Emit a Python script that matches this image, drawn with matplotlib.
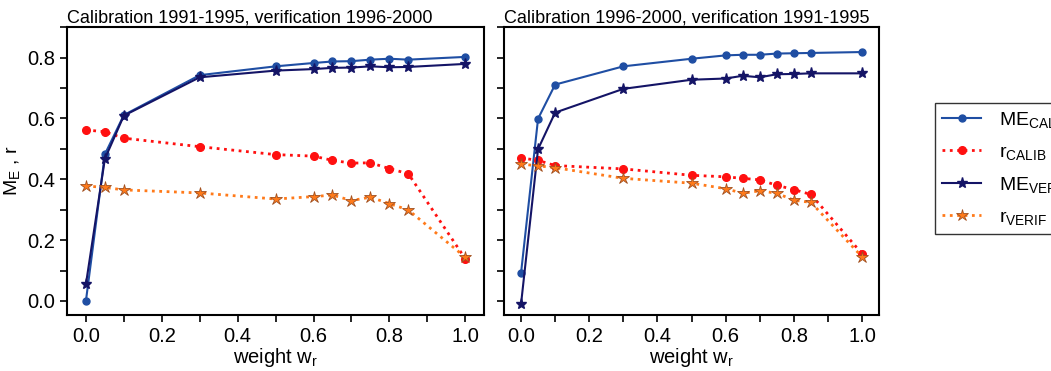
import matplotlib
matplotlib.use("Agg")
import matplotlib.pyplot as plt
from matplotlib.ticker import MultipleLocator

plt.rcParams['font.family'] = ['Liberation Sans', 'DejaVu Sans']
plt.rcParams['mathtext.default'] = 'regular'

weights = [0.0, 0.05, 0.1, 0.3, 0.5, 0.6, 0.65, 0.7, 0.75, 0.8, 0.85, 1.0]

# Left panel: Calibration 1991-1995, verification 1996-2000
me_calib_1 = [0.0, 0.482, 0.611, 0.742, 0.771, 0.782, 0.787, 0.788, 0.793, 0.796, 0.793, 0.802]
r_calib_1 = [0.562, 0.556, 0.535, 0.507, 0.481, 0.476, 0.462, 0.453, 0.454, 0.435, 0.418, 0.139]
me_verif_1 = [0.055, 0.467, 0.609, 0.735, 0.757, 0.762, 0.766, 0.767, 0.771, 0.768, 0.769, 0.779]
r_verif_1 = [0.378, 0.373, 0.365, 0.355, 0.335, 0.343, 0.348, 0.330, 0.341, 0.320, 0.299, 0.144]

# Right panel: Calibration 1996-2000, verification 1991-1995
me_calib_2 = [0.091, 0.599, 0.711, 0.771, 0.796, 0.807, 0.809, 0.809, 0.813, 0.814, 0.815, 0.818]
r_calib_2 = [0.470, 0.462, 0.445, 0.434, 0.413, 0.408, 0.403, 0.398, 0.380, 0.366, 0.350, 0.155]
me_verif_2 = [-0.011, 0.499, 0.619, 0.697, 0.727, 0.731, 0.740, 0.735, 0.745, 0.746, 0.748, 0.748]
r_verif_2 = [0.450, 0.444, 0.438, 0.403, 0.387, 0.369, 0.354, 0.362, 0.354, 0.331, 0.324, 0.145]

titles = ["Calibration 1991-1995, verification 1996-2000",
          "Calibration 1996-2000, verification 1991-1995"]
labels = ['ME$_{CALIB}$', 'r$_{CALIB}$', 'ME$_{VERIF}$', 'r$_{VERIF}$']

fig = plt.figure(figsize=(10.51, 3.71), dpi=100)
ax1 = fig.add_axes([0.0637, 0.151, 0.397, 0.776])
ax2 = fig.add_axes([0.4795, 0.151, 0.357, 0.776])

panels = [(ax1, me_calib_1, r_calib_1, me_verif_1, r_verif_1),
          (ax2, me_calib_2, r_calib_2, me_verif_2, r_verif_2)]

handles = None
for i, (ax, mc, rc, mv, rv) in enumerate(panels):
    h1, = ax.plot(weights, mc, '-', color='#1f4ea3', lw=1.5, marker='o', ms=5, label=labels[0])
    h2, = ax.plot(weights, rc, ':', color='#ff1010', lw=2.0, marker='o', ms=5.5, label=labels[1])
    h3, = ax.plot(weights, mv, '-', color='#141466', lw=1.5, marker='*', ms=8, label=labels[2])
    h4, = ax.plot(weights, rv, ':', color='#ff7a1a', lw=2.0, marker='*', ms=9,
                  markeredgecolor='#a05020', markeredgewidth=0.6, label=labels[3])
    handles = [h1, h2, h3, h4]
    ax.set_xlim(-0.05, 1.05)
    ax.set_ylim(-0.046, 0.9)
    ax.xaxis.set_major_locator(MultipleLocator(0.2))
    ax.xaxis.set_minor_locator(MultipleLocator(0.1))
    ax.yaxis.set_major_locator(MultipleLocator(0.2))
    ax.yaxis.set_minor_locator(MultipleLocator(0.1))
    ax.tick_params(which='both', direction='out', width=1.2, labelsize=14.5)
    ax.tick_params(which='major', length=5)
    ax.tick_params(which='minor', length=5)
    ax.tick_params(axis='x', which='both', top=False)
    ax.tick_params(axis='y', which='both', right=False)
    for s in ax.spines.values():
        s.set_linewidth(1.5)
    ax.set_xlabel('weight w$_r$', fontsize=14.5, labelpad=0)
    ax.set_title(titles[i], fontsize=13, loc='left', pad=3)

ax2.tick_params(axis='y', labelleft=False)
ax1.set_ylabel('M$_E$ , r', fontsize=14, labelpad=4)

fig.legend(handles=handles, labels=labels, loc='upper left',
           bbox_to_anchor=(0.89, 0.722), frameon=True, fancybox=False,
           edgecolor='black', fontsize=14, handlelength=2.0, handletextpad=0.9,
           labelspacing=0.68, borderpad=0.35, borderaxespad=0.0)

fig.savefig('out.png', dpi=100)
